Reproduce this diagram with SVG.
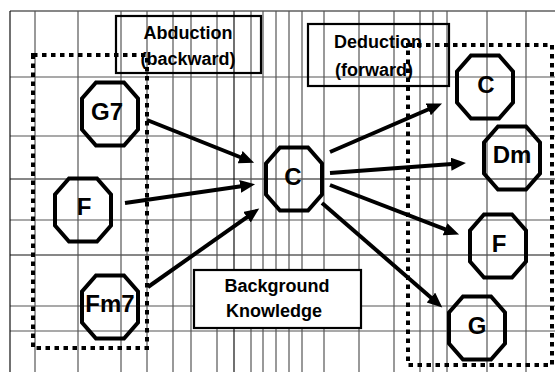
<svg xmlns="http://www.w3.org/2000/svg" xmlns:xlink="http://www.w3.org/1999/xlink" width="555" height="372" viewBox="0 0 555 372">
<style>
.grid line{stroke:#555;stroke-width:1.2}
.gridk{stroke:#111 !important}
.box{fill:none;stroke:#000;stroke-width:2.2}
.dot{fill:none;stroke:#000;stroke-width:4;stroke-dasharray:4.5 4.5}
.oct{fill:none;stroke:#000;stroke-width:4;stroke-linejoin:miter}
.lbl{font-family:"Liberation Sans",Arial,sans-serif;font-weight:bold;font-size:24px;text-anchor:middle;fill:#000}
.txt{font-family:"Liberation Sans",Arial,sans-serif;font-weight:bold;font-size:18px;text-anchor:middle;fill:#000}
.arr{stroke:#000;stroke-width:4;fill:none}
</style>
<defs>
<polygon id="octa" points="-14,-31.5 14,-31.5 28,-15.5 28,15.5 14,31.5 -14,31.5 -28,15.5 -28,-15.5"/>
<marker id="ah" markerUnits="userSpaceOnUse" markerWidth="16" markerHeight="14" refX="1" refY="6.5" orient="auto">
<path d="M0,0 L15,6.5 L0,13 z" fill="#000"/>
</marker>
</defs>
<rect width="555" height="372" fill="#fff"/>
<g class="grid">
<line x1="10" y1="11" x2="555" y2="11" class="gridk"/>
<line x1="10" y1="77" x2="555" y2="77"/>
<line x1="10" y1="136" x2="555" y2="136"/>
<line x1="10" y1="179" x2="555" y2="179" class="gridk"/>
<line x1="10" y1="220" x2="555" y2="220"/>
<line x1="10" y1="255" x2="555" y2="255" class="gridk"/>
<line x1="10" y1="306" x2="555" y2="306"/>
<line x1="10" y1="331" x2="555" y2="331"/>
<line x1="10" y1="11" x2="10" y2="372" class="gridk"/>
<line x1="35" y1="11" x2="35" y2="372"/>
<line x1="78" y1="11" x2="78" y2="372"/>
<line x1="121" y1="11" x2="121" y2="372"/>
<line x1="147" y1="11" x2="147" y2="372"/>
<line x1="173" y1="11" x2="173" y2="372"/>
<line x1="191" y1="11" x2="191" y2="372"/>
<line x1="217" y1="11" x2="217" y2="372"/>
<line x1="234" y1="11" x2="234" y2="372" class="gridk"/>
<line x1="251" y1="11" x2="251" y2="372"/>
<line x1="263" y1="11" x2="263" y2="372"/>
<line x1="276" y1="11" x2="276" y2="372"/>
<line x1="289" y1="11" x2="289" y2="372"/>
<line x1="302" y1="11" x2="302" y2="372"/>
<line x1="324" y1="11" x2="324" y2="372"/>
<line x1="359" y1="11" x2="359" y2="372"/>
<line x1="394" y1="11" x2="394" y2="372"/>
<line x1="420" y1="11" x2="420" y2="372"/>
<line x1="433" y1="11" x2="433" y2="372"/>
<line x1="447" y1="11" x2="447" y2="372"/>
<line x1="487" y1="11" x2="487" y2="372"/>
<line x1="526" y1="11" x2="526" y2="372"/>
</g>
<g id="abduction">
<rect class="box" x="116" y="16" width="145" height="57"/>
<text class="txt" x="188" y="39">Abduction</text>
<text class="txt" x="188" y="65">(backward)</text>
</g>
<g id="deduction">
<rect class="box" x="308" y="24" width="141" height="62"/>
<text class="txt" x="378" y="48">Deduction</text>
<text class="txt" x="374" y="76">(forward)</text>
</g>
<g id="background">
<rect class="box" x="194" y="270" width="167" height="58" style="fill:#fff"/>
<text class="txt" x="277" y="292">Background</text>
<text class="txt" x="274" y="317">Knowledge</text>
</g>
<g id="left-group"><rect class="dot" x="33" y="55" width="114" height="293"/></g>
<g id="right-group"><rect class="dot" x="408" y="45" width="144" height="320"/></g>
<g id="connectors">
<line class="arr" x1="147" y1="120" x2="241.1" y2="157.5" marker-end="url(#ah)"/>
<line class="arr" x1="125" y1="203" x2="241.2" y2="186.2" marker-end="url(#ah)"/>
<line class="arr" x1="148" y1="287" x2="247.8" y2="216.6" marker-end="url(#ah)"/>
<line class="arr" x1="330" y1="152" x2="429.2" y2="109" marker-end="url(#ah)"/>
<line class="arr" x1="330" y1="173" x2="452" y2="164.1" marker-end="url(#ah)"/>
<line class="arr" x1="330" y1="185" x2="446" y2="229.6" marker-end="url(#ah)"/>
<line class="arr" x1="322" y1="203" x2="431.7" y2="298.2" marker-end="url(#ah)"/>
</g>
<g id="node-G7"><use xlink:href="#octa" class="oct" transform="translate(110,114)"/><text class="lbl" x="107" y="120">G7</text></g>
<g id="node-F-left"><use xlink:href="#octa" class="oct" transform="translate(83,210)"/><text class="lbl" x="84" y="215">F</text></g>
<g id="node-Fm7"><use xlink:href="#octa" class="oct" transform="translate(110,307)"/><text class="lbl" x="110" y="312">Fm7</text></g>
<g id="node-C-center"><use xlink:href="#octa" class="oct" transform="translate(294,179)"/><text class="lbl" x="293" y="185">C</text></g>
<g id="node-C-right"><use xlink:href="#octa" class="oct" transform="translate(485,87)"/><text class="lbl" x="486" y="93">C</text></g>
<g id="node-Dm"><use xlink:href="#octa" class="oct" transform="translate(512,158)"/><text class="lbl" x="512" y="163">Dm</text></g>
<g id="node-F-right"><use xlink:href="#octa" class="oct" transform="translate(498,246)"/><text class="lbl" x="499" y="252">F</text></g>
<g id="node-G"><use xlink:href="#octa" class="oct" transform="translate(477,328)"/><text class="lbl" x="477" y="334">G</text></g>
</svg>
